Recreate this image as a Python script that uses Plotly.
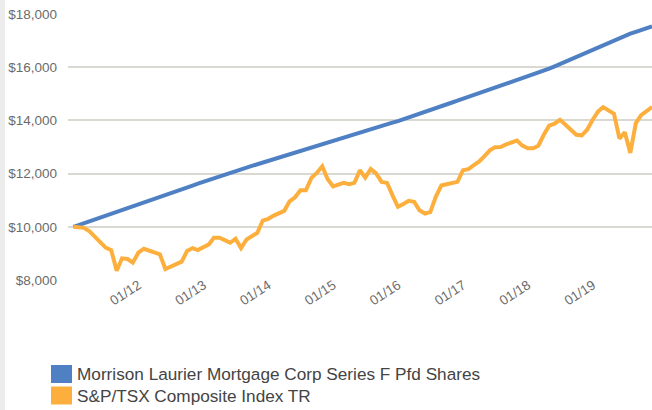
import pandas as pd
import plotly.graph_objects as go

# Monthly observations (month-end), Dec 2010 .. Nov 2019
dates = (pd.date_range("2011-01-01", periods=108, freq="MS") - pd.Timedelta(days=1)).strftime("%Y-%m-%d").tolist()

tick_dates = ["2012-01-01", "2013-01-01", "2014-01-01", "2015-01-01",
              "2016-01-01", "2017-01-01", "2018-01-01", "2019-01-01"]
tick_labels = ["01/12", "01/13", "01/14", "01/15", "01/16", "01/17", "01/18", "01/19"]

series_names = ["Morrison Laurier Mortgage Corp Series F Pfd Shares", "S&P/TSX Composite Index TR"]

morrison_values = [
    10000, 10070, 10141, 10211, 10282, 10352, 10422, 10493, 10563, 10634,
    10704, 10774, 10845, 10915, 10986, 11056, 11126, 11197, 11267, 11338,
    11408, 11478, 11549, 11619, 11690, 11760, 11830, 11901, 11971, 12038,
    12100, 12163, 12225, 12288, 12350, 12413, 12475, 12538, 12600, 12663,
    12725, 12788, 12850, 12913, 12975, 13038, 13100, 13163, 13225, 13288,
    13350, 13413, 13475, 13538, 13600, 13663, 13725, 13788, 13850, 13913,
    13975, 14042, 14112, 14182, 14252, 14322, 14393, 14463, 14533, 14603,
    14673, 14743, 14813, 14883, 14953, 15023, 15094, 15164, 15234, 15304,
    15374, 15444, 15514, 15584, 15654, 15725, 15795, 15865, 15944, 16033,
    16122, 16210, 16299, 16387, 16476, 16565, 16653, 16742, 16830, 16919,
    17008, 17096, 17185, 17259, 17327, 17395, 17462, 17530,
]

tsx_values = [
    10000, 9990, 9960, 9830, 9620, 9380, 9220, 9125, 8350, 8815,
    8790, 8650, 9025, 9175, 9100, 9025, 8965, 8415, 8500, 8565,
    8690, 9090, 9200, 9125, 9230, 9340, 9590, 9590, 9500, 9400,
    9550, 9200, 9525, 9650, 9775, 10236, 10300, 10420, 10520, 10600,
    10960, 11110, 11375, 11375, 11840, 12025, 12275, 11800, 11520, 11580,
    11650, 11600, 11650, 12125, 11850, 12175, 12000, 11690, 11650, 11190,
    10750, 10860, 10975, 10940, 10625, 10500, 10550, 11125, 11550, 11600,
    11650, 11690, 12125, 12170, 12310, 12450, 12650, 12875, 12990, 13000,
    13100, 13175, 13240, 13050, 12950, 12950, 13050, 13460, 13800, 13875,
    14025, 13840, 13650, 13460, 13440, 13650, 14025, 14340, 14500, 14375,
    14250, 13315, 13550, 12775, 13900, 14200, 14340, 14500,
]

colors = ["#4f80c3", "#fdaf3e"]

W, H = 652, 410
ML, MR, MT, MB = 68, 0, 14, 130
PW, PH = W - ML - MR, H - MT - MB


def px_x(p):
    return (p - ML) / PW


def px_y(p):
    return (H - MB - p) / PH


fig = go.Figure()
for name, vals, col in zip(series_names, [morrison_values, tsx_values], colors):
    fig.add_trace(go.Scatter(x=dates, y=vals, mode="lines", name=name,
                             line=dict(color=col, width=4), showlegend=False))

font_family = "Liberation Sans, Arial, Helvetica, sans-serif"

# left grey strip
fig.add_shape(type="rect", xref="paper", yref="paper", x0=px_x(0), x1=px_x(5),
              y0=px_y(H), y1=px_y(0), fillcolor="#ececec", line_width=0, layer="below")

# manual legend (rectangular swatches)
leg_rows = [374, 395.5]
for name, col, cy in zip(series_names, colors, leg_rows):
    fig.add_shape(type="rect", xref="paper", yref="paper",
                  x0=px_x(51), x1=px_x(72), y0=px_y(cy + 9), y1=px_y(cy - 9),
                  fillcolor=col, line_width=0)
    fig.add_annotation(xref="paper", yref="paper", x=px_x(74.5), y=px_y(cy),
                       xanchor="left", yanchor="middle", showarrow=False,
                       text=name, font=dict(family=font_family, size=17.2, color="#444444"))

fig.update_layout(
    width=W, height=H,
    margin=dict(l=ML, r=MR, t=MT, b=MB, pad=0),
    paper_bgcolor="white", plot_bgcolor="white",
    font=dict(family=font_family, color="#6b6b6b"),
    xaxis=dict(type="date", range=["2010-11-30", "2019-11-30"],
               tickmode="array", tickvals=tick_dates, ticktext=tick_labels,
               tickangle=-33, showgrid=False, zeroline=False, showline=False,
               ticks="", ticklabelstandoff=-6,
               tickfont=dict(size=13.5, color="#6b6b6b")),
    yaxis=dict(range=[8000, 18000], dtick=2000, tickprefix="$", tickformat=",d",
               showgrid=True, gridcolor="#d9d9d2", gridwidth=2, zeroline=False,
               showline=False, ticks="", ticklabelstandoff=10,
               tickfont=dict(size=13.5, color="#6b6b6b")),
)

fig.write_html("out.html", config={"displayModeBar": False},
               post_script="document.body.style.margin='0';document.body.style.overflow='hidden';")
